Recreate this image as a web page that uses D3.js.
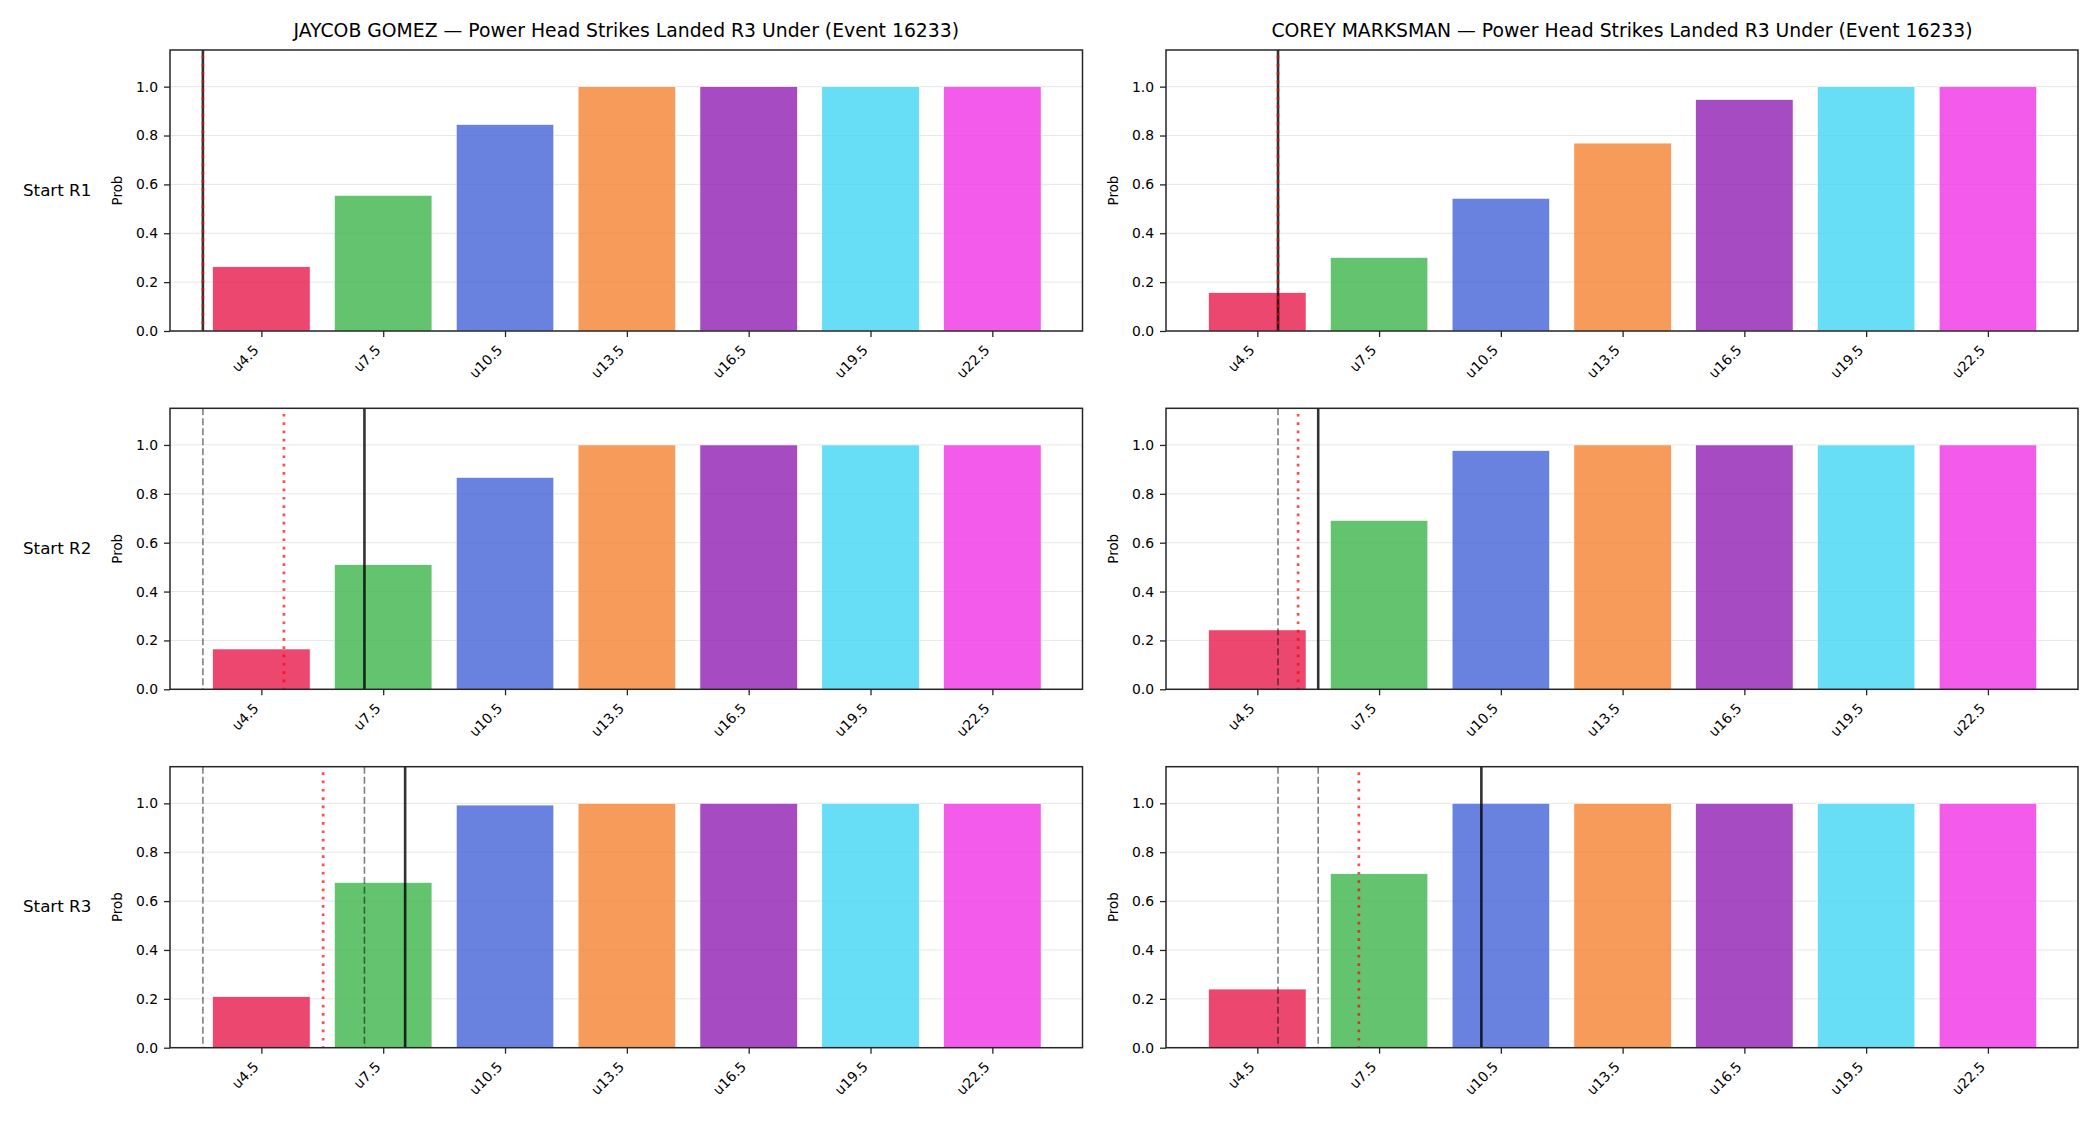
<!DOCTYPE html>
<html>
<head>
<meta charset="utf-8">
<script src="https://cdn.jsdelivr.net/npm/d3@7"></script>
<style>
  body { margin: 0; background: #fff; }
  text { font-family: "DejaVu Sans", sans-serif; }
</style>
</head>
<body>
<svg id="chart"></svg>
<script>
var w = 2100, h = 1125;

// data
var thresholds = ["u4.5", "u7.5", "u10.5", "u13.5", "u16.5", "u19.5", "u22.5"];
var fighters = ["JAYCOB GOMEZ", "COREY MARKSMAN"];
var starts = ["Start R1", "Start R2", "Start R3"];
var barColors = ["#e6194b", "#3cb44b", "#4363d8", "#f58231", "#911eb4", "#42d4f4", "#f032e6"];

var gomezProbs = [
  [0.263, 0.555, 0.845, 1.0, 1.0, 1.0, 1.0],
  [0.165, 0.510, 0.867, 1.0, 1.0, 1.0, 1.0],
  [0.209, 0.676, 0.993, 1.0, 1.0, 1.0, 1.0]
];
var marksmanProbs = [
  [0.157, 0.301, 0.543, 0.769, 0.947, 1.0, 1.0],
  [0.243, 0.691, 0.977, 1.0, 1.0, 1.0, 1.0],
  [0.240, 0.712, 1.0, 1.0, 1.0, 1.0, 1.0]
];
// marker lines, in category-index units
var gomezLine = [-0.48, 0.846, 1.18];
var marksmanLine = [0.17, 0.50, 1.84];
var gomezRed = [-0.48, 0.185, 0.507];
var marksmanRed = [0.17, 0.335, 0.834];

var yTicks = [0, 0.2, 0.4, 0.6, 0.8, 1.0];

var probs = [gomezProbs, marksmanProbs];
var lines = [gomezLine, marksmanLine];
var reds = [gomezRed, marksmanRed];

var cols = [{left: 170, right: 1082.5}, {left: 1166, right: 2078}];
var rowTop = [50, 408.3, 766.7], rowH = 281;
var ink = "#262626";

var svg = d3.select("#chart").attr("width", w).attr("height", h);

cols.forEach(function(c, ci) {
  var width = c.right - c.left;
  starts.forEach(function(s, ri) {
    var g = svg.append("g")
      .attr("transform", "translate(" + c.left + "," + rowTop[ri] + ")");

    var x = d3.scaleLinear().domain([-0.75, 6.74]).range([0, width]);
    var y = d3.scaleLinear().domain([0, 1.15]).range([rowH, 0]);

    // grid
    g.append("g").selectAll("line")
      .data(yTicks).enter().append("line")
      .attr("x1", 0).attr("x2", width)
      .attr("y1", function(d) { return y(d); })
      .attr("y2", function(d) { return y(d); })
      .style("stroke", "#b0b0b0").style("stroke-opacity", 0.3).style("stroke-width", 1);

    // bars
    g.append("g").selectAll("rect")
      .data(probs[ci][ri]).enter().append("rect")
      .attr("x", function(d, i) { return x(i - 0.4); })
      .attr("width", x(0.8) - x(0))
      .attr("y", function(d) { return y(d); })
      .attr("height", function(d) { return y(0) - y(d); })
      .style("fill", function(d, i) { return barColors[i]; })
      .style("fill-opacity", 0.8)
      .style("stroke", "#ffffff").style("stroke-width", 0.6);

    // earlier rounds' lines, dashed gray
    g.append("g").selectAll("line")
      .data(lines[ci].slice(0, ri)).enter().append("line")
      .attr("x1", function(d) { return x(d); }).attr("x2", function(d) { return x(d); })
      .attr("y1", 0).attr("y2", rowH)
      .style("stroke", "#000").style("stroke-opacity", 0.5)
      .style("stroke-width", 1.6).style("stroke-dasharray", "7,3");

    // current line, solid
    g.append("line")
      .attr("x1", x(lines[ci][ri])).attr("x2", x(lines[ci][ri]))
      .attr("y1", 0).attr("y2", rowH)
      .style("stroke", "#000").style("stroke-opacity", 0.8).style("stroke-width", 2.6);

    // red dotted
    g.append("line")
      .attr("x1", x(reds[ci][ri])).attr("x2", x(reds[ci][ri]))
      .attr("y1", rowH * 0.02).attr("y2", rowH)
      .style("stroke", "#ff0000").style("stroke-opacity", 0.7)
      .style("stroke-width", 2.7).style("stroke-dasharray", "2.7,5.6");

    // axes
    var xAxis = g.append("g")
      .attr("transform", "translate(0," + rowH + ")")
      .call(d3.axisBottom(x).tickValues(d3.range(thresholds.length))
        .tickFormat(function(i) { return thresholds[i]; })
        .tickSize(6).tickSizeOuter(0));
    xAxis.select(".domain").remove();
    xAxis.selectAll("line").style("stroke", ink).style("stroke-width", 1.3);
    xAxis.selectAll("text")
      .attr("y", 0).attr("dy", 0)
      .attr("text-anchor", "end")
      .attr("transform", "translate(-2.3,20) rotate(-45)")
      .style("font-family", "DejaVu Sans").style("font-size", "13.9px").style("fill", "#000");

    var yAxis = g.append("g")
      .call(d3.axisLeft(y).tickValues(yTicks).tickFormat(d3.format(".1f"))
        .tickSize(6).tickPadding(6).tickSizeOuter(0));
    yAxis.select(".domain").remove();
    yAxis.selectAll("line").style("stroke", ink).style("stroke-width", 1.3);
    yAxis.selectAll("text")
      .style("font-family", "DejaVu Sans").style("font-size", "13.9px").style("fill", "#000");

    // frame
    g.append("rect")
      .attr("width", width).attr("height", rowH)
      .style("fill", "none").style("stroke", ink).style("stroke-width", 1.5);

    g.append("text")
      .attr("transform", "translate(-48," + (rowH / 2) + ") rotate(-90)")
      .attr("text-anchor", "middle")
      .style("font-size", "13.4px")
      .text("Prob");

    if (ri == 0) {
      g.append("text")
        .attr("x", width / 2).attr("y", -13)
        .attr("text-anchor", "middle")
        .style("font-size", "18.8px")
        .text(fighters[ci] + " \u2014 Power Head Strikes Landed R3 Under (Event 16233)");
    }
    if (ci == 0) {
      svg.append("text")
        .attr("x", 23).attr("y", rowTop[ri] + rowH / 2 + 5)
        .style("font-size", "16.7px")
        .text(s);
    }
  });
});
</script>
</body>
</html>
